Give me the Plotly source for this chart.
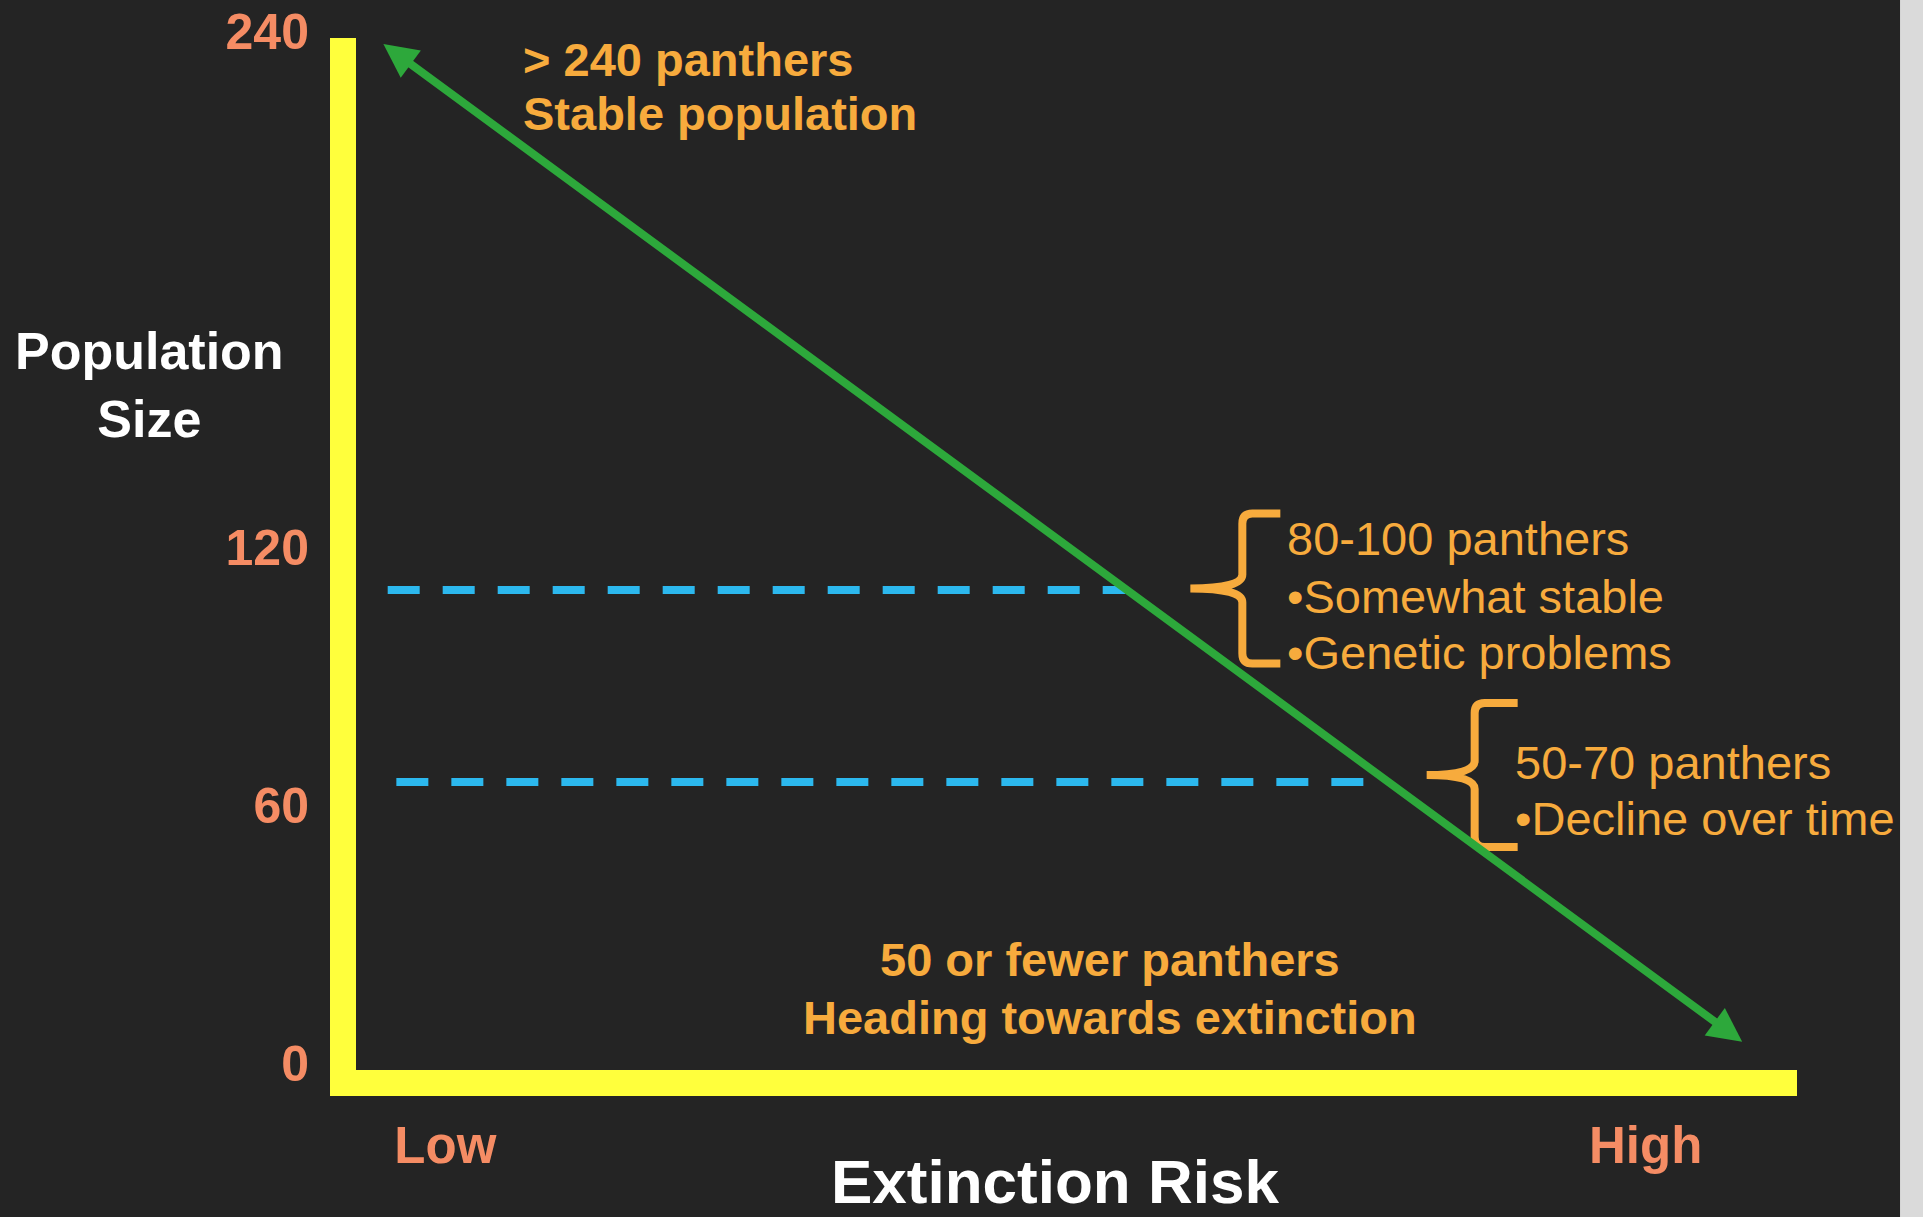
import plotly.graph_objects as go

# ---- data ----
pop_tick_vals = [0, 60, 120, 240]
pop_tick_text = ["0", "60", "120", "240"]
risk_tick_vals = [6.2, 89.5]
risk_tick_text = ["Low", "High"]

# double-headed trend arrow (extinction risk vs population size)
trend_x = [1.9, 96.3]
trend_y = [238.6, 6.3]

# dashed threshold lines
threshold_y = [111.6, 67.0]
threshold_x0 = [2.2, 2.8]
threshold_x1 = [53.4, 70.6]

# brace tips (data coords)
brace_x = [57.9, 74.3]
brace_y = [112.0, 68.6]

top_text = ["> 240 panthers", "Stable population"]
top_text_y = [235.0, 222.4]
top_text_x = 11.45

mid_text = ["80-100 panthers", "\u2022Somewhat stable", "\u2022Genetic problems"]
mid_text_y = [123.5, 110.2, 97.0]
mid_text_x = 64.47

low_text = ["50-70 panthers", "\u2022Decline over time"]
low_text_y = [71.6, 58.6]
low_text_x = 80.3

bottom_text = ["50 or fewer panthers", "Heading towards extinction"]
bottom_text_y = [25.8, 12.3]
bottom_text_x = 52.3

# ---- styling ----
BG = "#242424"
YELLOW = "#FFFF3C"
GREEN = "#2DA83B"
BLUE = "#2CB8EE"
ORANGE = "#F7AB3D"
SALMON = "#F58C64"
FONT = "Liberation Sans, Arial, sans-serif"

fig = go.Figure()

for i in range(len(threshold_y)):
    fig.add_trace(go.Scatter(
        x=[threshold_x0[i], threshold_x1[i]],
        y=[threshold_y[i], threshold_y[i]],
        mode="lines",
        line=dict(color=BLUE, width=8, dash="32px,23px"),
        hoverinfo="skip", showlegend=False,
    ))

annotations = []
# trend arrow
annotations.append(dict(
    x=trend_x[0], y=trend_y[0], ax=trend_x[1], ay=trend_y[1],
    xref="x", yref="y", axref="x", ayref="y", text="",
    showarrow=True, arrowside="end+start",
    arrowhead=2, startarrowhead=2, arrowsize=0.85, startarrowsize=0.85,
    arrowwidth=8, arrowcolor=GREEN, standoff=0, startstandoff=0,
))

def add_lines(lines, ys, x, bold, anchor="left"):
    for t, y in zip(lines, ys):
        annotations.append(dict(
            x=x, y=y, xref="x", yref="y", text=t, showarrow=False,
            xanchor=anchor, yanchor="middle",
            font=dict(family=FONT, size=47, color=ORANGE,
                      weight="bold" if bold else "normal"),
        ))

add_lines(top_text, top_text_y, top_text_x, True)
add_lines(mid_text, mid_text_y, mid_text_x, False)
add_lines(low_text, low_text_y, low_text_x, False)
add_lines(bottom_text, bottom_text_y, bottom_text_x, True, anchor="center")

# axis titles
annotations.append(dict(
    x=-0.143, y=0.664, xref="paper", yref="paper",
    text="Population<br>Size", showarrow=False, align="center",
    xanchor="center", yanchor="middle",
    font=dict(family=FONT, size=52, color="white", weight="bold"),
))
annotations.append(dict(
    x=0.485, y=-0.1085, xref="paper", yref="paper",
    text="Extinction Risk", showarrow=False,
    xanchor="center", yanchor="middle",
    font=dict(family=FONT, size=62, color="white", weight="bold"),
))

shapes = []
# braces
brace_geo = [(75, 52, 90), (72, 48, 91)]
for (bx, by), (H, S, E) in zip(zip(brace_x, brace_y), brace_geo):
    path = (f"M {E},{H} L {S+10},{H} Q {S},{H} {S},{H-10} L {S},14 "
            f"Q {S},0 0,0 Q {S},0 {S},-14 L {S},{-H+10} "
            f"Q {S},{-H} {S+10},{-H} L {E},{-H}")
    shapes.append(dict(
        type="path", xref="x", yref="y", xsizemode="pixel", ysizemode="pixel",
        xanchor=bx, yanchor=by, path=path,
        line=dict(color=ORANGE, width=8), fillcolor="rgba(0,0,0,0)",
    ))
# light scan border at right edge
shapes.append(dict(
    type="rect", xref="paper", yref="paper", x0=1.0715, x1=1.2, y0=-0.3, y1=1.2,
    line=dict(width=0), fillcolor="#DADADA", layer="below",
))

fig.update_layout(
    width=1923, height=1217,
    template="none",
    paper_bgcolor=BG, plot_bgcolor=BG,
    margin=dict(l=356, r=126, t=38, b=147, pad=0),
    showlegend=False,
    font=dict(family=FONT),
    annotations=annotations,
    shapes=shapes,
    xaxis=dict(
        range=[0, 100], showgrid=False, zeroline=False,
        showline=True, linecolor=YELLOW, linewidth=26,
        tickvals=risk_tick_vals, ticktext=risk_tick_text, ticks="",
        tickfont=dict(family=FONT, size=51, color=SALMON, weight="bold"),
        ticklabelstandoff=6,
        automargin=False, fixedrange=True,
    ),
    yaxis=dict(
        range=[0, 240], showgrid=False, zeroline=False,
        showline=True, linecolor=YELLOW, linewidth=26,
        tickvals=pop_tick_vals, ticktext=pop_tick_text, ticks="",
        tickfont=dict(family=FONT, size=50, color=SALMON, weight="bold"),
        ticklabelstandoff=11, ticklabelshift=-7,
        automargin=False, fixedrange=True,
    ),
)

fig.write_html(
    "out.html",
    config={"displayModeBar": False},
    post_script="document.body.style.margin='0';document.body.style.background='%s';" % BG,
)
